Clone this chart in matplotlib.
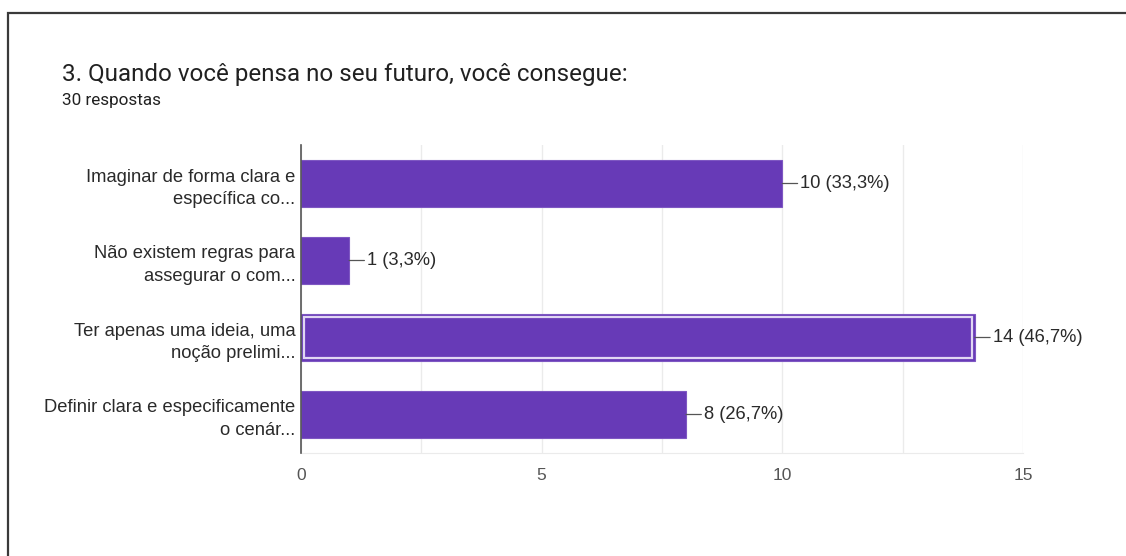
import matplotlib.pyplot as plt
from matplotlib.patches import Rectangle

# survey answers
categorias = [
    "Imaginar de forma clara e\nespecífica co...",
    "Não existem regras para\nassegurar o com...",
    "Ter apenas uma ideia, uma\nnoção prelimi...",
    "Definir clara e especificamente\no cenár...",
]
respostas = [10, 1, 14, 8]
rotulos = ["10 (33,3%)", "1 (3,3%)", "14 (46,7%)", "8 (26,7%)"]
ticks_x = [0, 5, 10, 15]
destaque = 2

roxo = "#673ab7"

fig = plt.figure(figsize=(11.26, 5.56), dpi=100)
fig.patch.set_facecolor("white")

# frame around the card (only top and left edges show)
W, H = 1126, 556
fig.add_artist(Rectangle((8 / W, -0.1), 1.2, (H - 13) / H + 0.1,
                         transform=fig.transFigure, fill=False,
                         edgecolor="#3a3a3a", linewidth=1.6))

fig.text(62 / W, 1 - 75 / H, "3. Quando você pensa no seu futuro, você consegue:",
         fontsize=17.4, family="Roboto", color="#212121", va="center")
fig.text(62 / W, 1 - 101 / H, "30 respostas", fontsize=12.3, family="Roboto",
         color="#212121", va="center")

ax = fig.add_axes([301 / W, 103 / H, 722 / W, 308 / H])
ypos = list(range(len(categorias)))
ax.barh(ypos, respostas, height=0.61, color=roxo, edgecolor="#7e57c2",
        linewidth=0.8, zorder=3)

# selected bar gets an inner light outline
ax.barh(destaque, respostas[destaque] - 0.12, left=0.06, height=0.53,
        fill=False, edgecolor="#e1d7f3", linewidth=1.6, zorder=4)

for y, v, txt in zip(ypos, respostas, rotulos):
    ax.annotate(txt, xy=(v, y), xytext=(13, 0), textcoords="offset points",
                ha="left", va="center", fontsize=13.2, family="Liberation Sans",
                color="#2a2a2a",
                arrowprops=dict(arrowstyle="-", color="#555555", lw=0.9,
                                shrinkA=0, shrinkB=0))

ax.set_xlim(0, 15)
ax.set_ylim(3.5, -0.5)
ax.set_xticks(ticks_x)
ax.set_xticks([2.5, 7.5, 12.5], minor=True)
ax.set_xticklabels([str(t) for t in ticks_x], fontsize=12.5,
                   family="Liberation Sans", color="#555555")
ax.set_yticks(ypos)
ax.set_yticklabels(categorias, fontsize=13.2, family="Liberation Sans",
                   color="#2a2a2a", linespacing=1.45)
ax.tick_params(axis="both", which="both", length=0)
ax.tick_params(axis="x", pad=11)
ax.tick_params(axis="y", pad=4)

ax.grid(axis="x", which="both", color="#ebebeb", linewidth=1, zorder=0)
for s in ["top", "right"]:
    ax.spines[s].set_visible(False)
ax.spines["bottom"].set_color("#ebebeb")
ax.spines["left"].set_color("#555555")
ax.spines["left"].set_linewidth(1.2)
ax.spines["left"].set_zorder(5)

fig.savefig("out.png", dpi=100)
